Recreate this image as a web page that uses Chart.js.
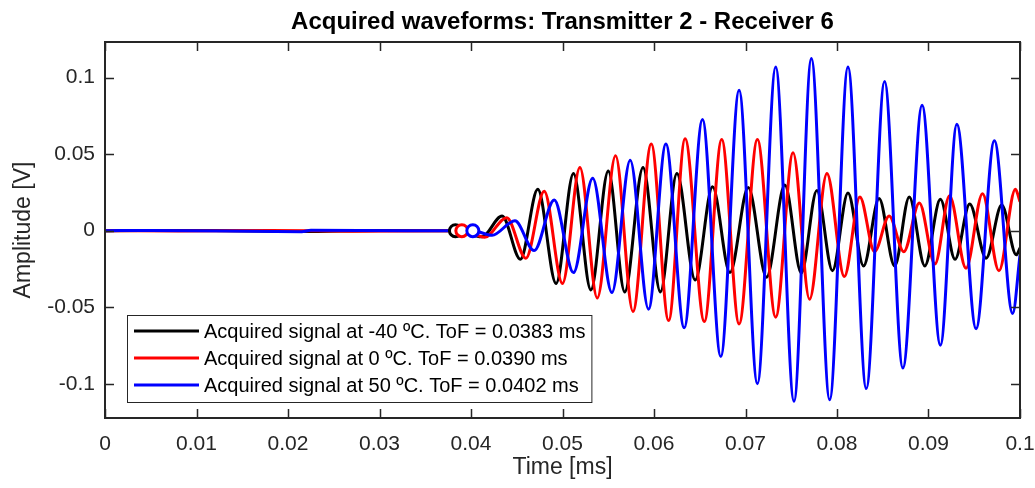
<!DOCTYPE html>
<html>
<head>
<meta charset="utf-8">
<script src="https://cdn.jsdelivr.net/npm/chart.js@4.4.1/dist/chart.umd.min.js"></script>
<style>
  html, body { margin: 0; padding: 0; background: #fff; }
</style>
</head>
<body>
<canvas id="waveChart" width="1035" height="488"></canvas>
<script>
// texts
var chartTitle = "Acquired waveforms: Transmitter 2 - Receiver 6";
var xTitle = "Time [ms]";
var yTitle = "Amplitude [V]";
var seriesLabels = [
  "Acquired signal at -40 \u00baC. ToF = 0.0383 ms",
  "Acquired signal at 0 \u00baC. ToF = 0.0390 ms",
  "Acquired signal at 50 \u00baC. ToF = 0.0402 ms"
];
var seriesColors = ["#000000", "#ff0000", "#0000ff"];

// ticks
var xTicks = [0, 0.01, 0.02, 0.03, 0.04, 0.05, 0.06, 0.07, 0.08, 0.09, 0.1];
var xTickLabels = ["0", "0.01", "0.02", "0.03", "0.04", "0.05", "0.06", "0.07", "0.08", "0.09", "0.1"];
var yTicks = [-0.1, -0.05, 0, 0.05, 0.1];
var yTickLabels = ["-0.1", "-0.05", "0", "0.05", "0.1"];

// time of flight (ms), marked with a circle on the zero line
var tofValues = [0.0383, 0.0390, 0.0402];

// waveforms: [time ms, amplitude V] (peaks and troughs)
var sigMinus40 = [
  [0, 0], [0.012, 0.0002], [0.0215, -0.0006], [0.03, 0.0002], [0.0383, 0],
  [0.0412, -0.004], [0.0434, 0.0096], [0.0454, -0.0187], [0.0473, 0.027],
  [0.0493, -0.0345], [0.0512, 0.0374], [0.0531, -0.0387], [0.0550, 0.039],
  [0.0568, -0.040], [0.0588, 0.0413], [0.0607, -0.040], [0.0625, 0.0374],
  [0.0645, -0.0322], [0.0664, 0.0287], [0.0683, -0.0274], [0.0703, 0.0283],
  [0.0723, -0.0304], [0.0743, 0.0298], [0.0761, -0.0276], [0.0778, 0.0263],
  [0.0795, -0.0261], [0.0812, 0.0246], [0.0829, -0.023], [0.0846, 0.021],
  [0.0863, -0.023], [0.0879, 0.022], [0.0896, -0.023], [0.0913, 0.0205],
  [0.0929, -0.0187], [0.0945, 0.0174], [0.0963, -0.018], [0.0980, 0.0168],
  [0.0996, -0.0158], [0.1, -0.0112]
];
var sig0 = [
  [0, 0], [0.008, -0.0002], [0.018, 0.0002], [0.027, -0.0003], [0.0390, 0],
  [0.0415, -0.0043], [0.0439, 0.0085], [0.0460, -0.018], [0.0480, 0.0258],
  [0.0500, -0.0345], [0.0519, 0.0413], [0.0538, -0.044], [0.0558, 0.0489],
  [0.0577, -0.0528], [0.0597, 0.0566], [0.0616, -0.0587], [0.0634, 0.060],
  [0.0655, -0.0594], [0.0674, 0.0596], [0.0693, -0.0609], [0.0713, 0.0596],
  [0.0733, -0.0565], [0.0752, 0.0509], [0.0770, -0.0448], [0.0789, 0.0374],
  [0.0808, -0.030], [0.0825, 0.022], [0.0841, -0.0137], [0.0857, 0.0096],
  [0.0873, -0.0137], [0.0890, 0.0181], [0.0907, -0.0218], [0.0923, 0.0228],
  [0.0941, -0.0245], [0.0959, 0.0242], [0.0977, -0.0262], [0.0995, 0.027],
  [0.1, 0.019]
];
var sig50 = [
  [0, 0], [0.005, 0.0002], [0.0215, -0.0007], [0.0225, 0.0003], [0.033, 0], [0.0402, 0],
  [0.0423, -0.003], [0.0448, 0.0065], [0.0469, -0.013], [0.0491, 0.020],
  [0.0512, -0.0274], [0.0533, 0.0342], [0.0554, -0.0404], [0.0574, 0.0461],
  [0.0594, -0.0513], [0.0613, 0.0566], [0.0633, -0.0635], [0.0653, 0.0727],
  [0.0673, -0.0822], [0.0693, 0.0918], [0.0713, -0.100], [0.0733, 0.107],
  [0.0753, -0.1115], [0.0772, 0.1125], [0.0792, -0.1105], [0.0812, 0.107],
  [0.0832, -0.1032], [0.0852, 0.0975], [0.0872, -0.0898], [0.0893, 0.082],
  [0.0913, -0.0748], [0.0931, 0.0696], [0.0952, -0.064], [0.0972, 0.0587],
  [0.0992, -0.0541], [0.1, -0.016]
];

var axisColor = "#262626";
var fontFamily = '"Liberation Sans", Arial, Helvetica, sans-serif';
Chart.defaults.font.family = fontFamily;
Chart.defaults.color = axisColor;

function toPoints(arr) {
  return arr.map(function (p) { return { x: p[0], y: p[1] }; });
}

// box, inward ticks on every side, title and legend like a MATLAB figure
var matlabAxes = {
  id: "matlabAxes",
  afterDraw: function (chart) {
    var ctx = chart.ctx;
    var ca = chart.chartArea;
    var xs = chart.scales.x;
    var ys = chart.scales.y;
    var tl = 9;
    ctx.save();
    ctx.strokeStyle = axisColor;
    ctx.lineWidth = 1.5;
    ctx.beginPath();
    xTicks.forEach(function (v) {
      var px = Math.round(xs.getPixelForValue(v)) + 0.5;
      ctx.moveTo(px, ca.bottom); ctx.lineTo(px, ca.bottom - tl);
      ctx.moveTo(px, ca.top); ctx.lineTo(px, ca.top + tl);
    });
    yTicks.forEach(function (v) {
      var py = Math.round(ys.getPixelForValue(v)) + 0.5;
      ctx.moveTo(ca.left, py); ctx.lineTo(ca.left + tl, py);
      ctx.moveTo(ca.right, py); ctx.lineTo(ca.right - tl, py);
    });
    ctx.stroke();
    ctx.lineWidth = 2;
    ctx.strokeRect(ca.left, ca.top, ca.right - ca.left, ca.bottom - ca.top);

    // title
    ctx.fillStyle = "#000";
    ctx.font = "bold 24px " + fontFamily;
    ctx.textAlign = "center";
    ctx.textBaseline = "middle";
    ctx.fillText(chartTitle, (ca.left + ca.right) / 2, 22);

    // legend box, lower left
    ctx.font = "20px " + fontFamily;
    var maxW = 0;
    seriesLabels.forEach(function (s) { maxW = Math.max(maxW, ctx.measureText(s).width); });
    var rowH = 27;
    var bx = ca.left + 22, bw = 77 + maxW + 6, bh = 87;
    var by = ca.bottom - 16 - bh;
    ctx.fillStyle = "#fff";
    ctx.fillRect(bx, by, bw, bh);
    ctx.strokeStyle = axisColor;
    ctx.lineWidth = 1;
    ctx.strokeRect(bx + 0.5, by + 0.5, bw, bh);
    ctx.textAlign = "left";
    seriesLabels.forEach(function (s, i) {
      var ry = by + 16 + i * rowH;
      ctx.strokeStyle = seriesColors[i];
      ctx.lineWidth = 3;
      ctx.beginPath();
      ctx.moveTo(bx + 7, ry); ctx.lineTo(bx + 72, ry);
      ctx.stroke();
      ctx.fillStyle = "#000";
      ctx.fillText(s, bx + 77, ry + 1);
    });
    ctx.restore();
  }
};

var lineStyle = {
  borderWidth: 3,
  pointRadius: 0,
  fill: false,
  cubicInterpolationMode: "monotone",
  borderJoinStyle: "round"
};

var ctx1 = document.getElementById("waveChart");
var waveChart = new Chart(ctx1, {
  type: "line",
  data: {
    datasets: [
      {
        label: "ToF",
        data: tofValues.map(function (t) { return { x: t, y: 0 }; }),
        showLine: false,
        pointRadius: 6,
        pointBorderWidth: 3,
        pointBackgroundColor: "#fff",
        pointBorderColor: seriesColors,
        order: 0
      },
      Object.assign({ label: seriesLabels[2], data: toPoints(sig50), borderColor: seriesColors[2], order: 1 }, lineStyle),
      Object.assign({ label: seriesLabels[1], data: toPoints(sig0), borderColor: seriesColors[1], order: 2 }, lineStyle),
      Object.assign({ label: seriesLabels[0], data: toPoints(sigMinus40), borderColor: seriesColors[0], order: 3 }, lineStyle)
    ]
  },
  options: {
    responsive: false,
    animation: false,
    devicePixelRatio: 1,
    layout: { padding: { top: 42, right: 15, left: 0, bottom: 0 } },
    plugins: {
      legend: { display: false },
      tooltip: { enabled: false },
      title: { display: false }
    },
    scales: {
      x: {
        type: "linear",
        min: 0,
        max: 0.1,
        grid: { display: false, drawTicks: false },
        border: { display: false },
        afterBuildTicks: function (scale) {
          scale.ticks = xTicks.map(function (v) { return { value: v }; });
        },
        afterFit: function (scale) {
          scale.height = 70;
          scale.paddingLeft = 0;
          scale.paddingRight = 0;
        },
        ticks: {
          padding: 14,
          maxRotation: 0,
          color: axisColor,
          font: { size: 21 },
          callback: function (v, i) { return xTickLabels[i]; }
        },
        title: {
          display: true,
          text: xTitle,
          color: axisColor,
          font: { size: 23 },
          padding: { top: 0, bottom: 7 }
        }
      },
      y: {
        type: "linear",
        min: -0.1224,
        max: 0.1233,
        grid: { display: false, drawTicks: false },
        border: { display: false },
        afterBuildTicks: function (scale) {
          scale.ticks = yTicks.map(function (v) { return { value: v }; });
        },
        afterFit: function (scale) {
          scale.width = 105;
          scale.paddingTop = 0;
          scale.paddingBottom = 0;
        },
        ticks: {
          padding: 10,
          color: axisColor,
          font: { size: 21 },
          callback: function (v, i) { return yTickLabels[i]; }
        },
        title: {
          display: true,
          text: yTitle,
          color: axisColor,
          font: { size: 23 },
          padding: { top: 10, bottom: 0 }
        }
      }
    }
  },
  plugins: [matlabAxes]
});
</script>
</body>
</html>
